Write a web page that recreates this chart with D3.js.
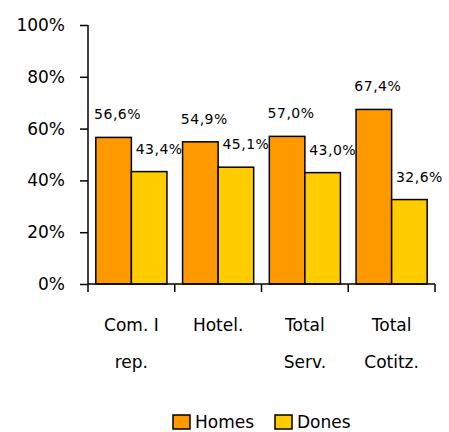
<!DOCTYPE html>
<html>
<head>
<meta charset="utf-8">
<script src="https://cdn.jsdelivr.net/npm/d3@7/dist/d3.min.js"></script>
<style>
body{margin:0;background:#fff;}
svg text{font-family:"Comic Sans MS","DejaVu Sans",sans-serif;fill:#000;}
</style>
</head>
<body>
<div id="chart"></div>
<script>
var categories = [["Com. I","rep."],["Hotel."],["Total","Serv."],["Total","Cotitz."]]
var homes = [56.6,54.9,57.0,67.4]
var dones = [43.4,45.1,43.0,32.6]
var seriesNames = ["Homes","Dones"]
var colors = ["#FF9900","#FFCC00"]
var yTicks = [0,20,40,60,80,100]

function fmt(v){return d3.format(".1f")(v).replace(".",",")+"%"}

function drawChart(){
    var width = 449
    var height = 432
    var left = 88, right = 435, top = 25, bottom = 284
    var svg = d3.select("#chart").append("svg").attr("width",width).attr("height",height)

    var xScale = d3.scaleBand().domain(d3.range(categories.length)).range([left,right]).paddingInner(0).paddingOuter(0)
    var inner = d3.scaleBand().domain([0,1]).range([0,xScale.bandwidth()]).paddingOuter(0.22).paddingInner(0)
    var yScale = d3.scaleLinear().domain([0,100]).range([bottom,top])

    var yAxis = d3.axisLeft(yScale).tickValues(yTicks).tickSize(8).tickPadding(15)
        .tickFormat(function(d){return d+"%"})
    var ya = svg.append("g").attr("transform","translate("+left+",0)").call(yAxis)
    ya.selectAll("text").attr("font-size",17).style("font-family",null)
    ya.selectAll("line").attr("stroke","#000").attr("stroke-width",1.5)
    ya.select(".domain").attr("d","M0,"+top+"V"+bottom).attr("stroke","#000").attr("stroke-width",1.5)

    var series = [homes,dones]
    series.forEach(function(vals,s){
        svg.selectAll(".bar"+s)
            .data(vals)
            .enter()
            .append("rect")
            .attr("x",function(d,i){return xScale(i)+inner(s)})
            .attr("y",function(d){return yScale(d)})
            .attr("width",inner.bandwidth())
            .attr("height",function(d){return yScale(0)-yScale(d)})
            .attr("fill",colors[s])
            .attr("stroke","#000")
            .attr("stroke-width",1.5)
        svg.selectAll(".lab"+s)
            .data(vals)
            .enter()
            .append("text")
            .text(function(d){return fmt(d)})
            .attr("x",function(d,i){return xScale(i)+inner(s)+inner.bandwidth()/2+(s==0?4:10)})
            .attr("y",function(d){return yScale(d)-18})
            .attr("font-size",14)
            .attr("letter-spacing",0.5)
            .attr("text-anchor","middle")
    })

    // x axis line and ticks at band edges
    svg.append("line").attr("x1",left).attr("x2",right).attr("y1",bottom).attr("y2",bottom)
        .attr("stroke","#000").attr("stroke-width",1.5)
    var edges = d3.range(categories.length+1).map(function(i){return left+i*xScale.step()})
    svg.selectAll(".xtick").data(edges).enter().append("line")
        .attr("x1",function(d){return d}).attr("x2",function(d){return d})
        .attr("y1",bottom).attr("y2",bottom+8)
        .attr("stroke","#000").attr("stroke-width",1.5)

    var xl = svg.selectAll(".xlab").data(categories).enter().append("text")
        .attr("x",function(d,i){return xScale(i)+xScale.bandwidth()/2})
        .attr("y",331)
        .attr("font-size",17)
        .attr("text-anchor","middle")
    xl.selectAll("tspan").data(function(d){return d}).enter().append("tspan")
        .attr("x",function(){return d3.select(this.parentNode).attr("x")})
        .attr("dy",function(d,j){return j==0?0:37})
        .text(function(d){return d})

    // legend
    var lx = [173,275]
    seriesNames.forEach(function(n,s){
        svg.append("rect").attr("x",lx[s]).attr("y",415).attr("width",17).attr("height",14)
            .attr("fill",colors[s]).attr("stroke","#000").attr("stroke-width",1.5)
        svg.append("text").attr("x",lx[s]+22).attr("y",428).attr("font-size",17).text(n)
    })
}
drawChart()
</script>
</body>
</html>
